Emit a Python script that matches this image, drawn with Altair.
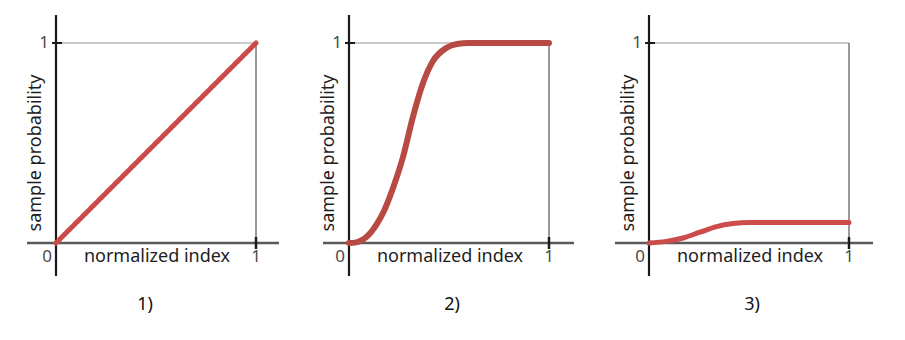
import altair as alt
import pandas as pd

# ---- data ----
curve1_x = [0.0, 1.0]
curve1_y = [0.0, 1.0]

curve2_x = [0.0, 0.03, 0.055, 0.087, 0.138, 0.17, 0.221, 0.27, 0.32, 0.37, 0.42, 0.486, 0.54, 0.6, 0.8, 1.0]
curve2_y = [0.0, 0.002, 0.01, 0.03, 0.093, 0.15, 0.278, 0.43, 0.632, 0.80, 0.91, 0.975, 0.995, 1.0, 1.0, 1.0]

curve3_x = [0.0, 0.087, 0.17, 0.255, 0.338, 0.42, 0.5, 0.7, 1.0]
curve3_y = [0.0, 0.008, 0.025, 0.054, 0.082, 0.097, 0.102, 0.102, 0.102]

panel_labels = ["1)", "2)", "3)"]
tick_labels = ["0", "1"]
x_title = "normalized index"
y_title = "sample probability"

# ---- layout (pixels) ----
UNIT = 200.0
H = 320
Y0_PX = 235  # distance of y=0 from top of plot area
YMAX = Y0_PX / UNIT
YMIN = -(H - Y0_PX) / UNIT

panels = [
    dict(xs=curve1_x, ys=curve1_y, color="#cc4b48", sw=5, left=0, width=292, origin=48,
         xa=(-0.145, 1.115), lab_x=0.445),
    dict(xs=curve2_x, ys=curve2_y, color="#b74a42", sw=6, left=292, width=300, origin=49,
         xa=(-0.13, 1.125), lab_x=0.515),
    dict(xs=curve3_x, ys=curve3_y, color="#cc4b4b", sw=5, left=592, width=296, origin=49,
         xa=(-0.17, 1.12), lab_x=0.515),
]

FONT = "Noto Sans"


def make_panel(p, label):
    xmin = -p["origin"] / UNIT
    xmax = (p["width"] - p["origin"]) / UNIT
    xs = alt.Scale(domain=[xmin, xmax], nice=False, zero=False)
    ys = alt.Scale(domain=[YMIN, YMAX], nice=False, zero=False)

    def X(f="x"):
        return alt.X(f"{f}:Q", scale=xs, axis=None)

    def Y(f="y"):
        return alt.Y(f"{f}:Q", scale=ys, axis=None)

    rules = pd.DataFrame([
        dict(x=0.0, x2=1.0, y=1.0, y2=1.0, c="#b8b8b8", w=1.5),
        dict(x=1.0, x2=1.0, y=0.0, y2=1.0, c="#555555", w=1.2),
        dict(x=p["xa"][0], x2=p["xa"][1], y=0.0, y2=0.0, c="#5a5a5a", w=2.5),
        dict(x=0.0, x2=0.0, y=-0.165, y2=1.14, c="#1a1a1a", w=2.2),
        dict(x=-0.02, x2=0.03, y=1.0, y2=1.0, c="#1a1a1a", w=2.0),
        dict(x=1.0, x2=1.0, y=-0.03, y2=0.03, c="#1a1a1a", w=2.5),
    ])
    rule_layer = alt.Chart(rules).mark_rule().encode(
        x=X(), x2="x2:Q", y=Y(), y2="y2:Q",
        color=alt.Color("c:N", scale=None),
        strokeWidth=alt.StrokeWidth("w:Q", scale=None),
    )

    curve = pd.DataFrame({"x": p["xs"], "y": p["ys"]})
    line = alt.Chart(curve).mark_line(
        color=p["color"], strokeWidth=p["sw"], strokeCap="round", interpolate="monotone"
    ).encode(x=X(), y=Y())

    ticks = pd.DataFrame({"x": [-0.045, 1.0, -0.06], "y": [-0.07, -0.07, 1.0],
                          "t": [tick_labels[0], tick_labels[1], tick_labels[1]]})
    tick_text = alt.Chart(ticks).mark_text(
        font=FONT, fontSize=17, color="#4a4a4a", align="center", baseline="middle"
    ).encode(x=X(), y=Y(), text="t:N")

    xt = alt.Chart(pd.DataFrame({"x": [0.505], "y": [-0.07], "t": [x_title]})).mark_text(
        font=FONT, fontSize=18, color="#1e1e1e", align="center", baseline="middle"
    ).encode(x=X(), y=Y(), text="t:N")

    yt = alt.Chart(pd.DataFrame({"x": [-0.1], "y": [0.45], "t": [y_title]})).mark_text(
        font=FONT, fontSize=18, color="#1e1e1e", align="center", baseline="middle", angle=270
    ).encode(x=X(), y=Y(), text="t:N")

    lab = alt.Chart(pd.DataFrame({"x": [p["lab_x"]], "y": [-0.31], "t": [label]})).mark_text(
        font=FONT, fontSize=18, color="#111111", align="center", baseline="middle"
    ).encode(x=X(), y=Y(), text="t:N")

    return alt.layer(rule_layer, line, tick_text, xt, yt, lab).properties(
        width=p["width"], height=H
    )


chart = alt.hconcat(
    *[make_panel(p, l) for p, l in zip(panels, panel_labels)], spacing=0
).properties(padding=0).configure_view(stroke=None)

chart.save("out.html", embed_options={"renderer": "svg", "actions": False})
